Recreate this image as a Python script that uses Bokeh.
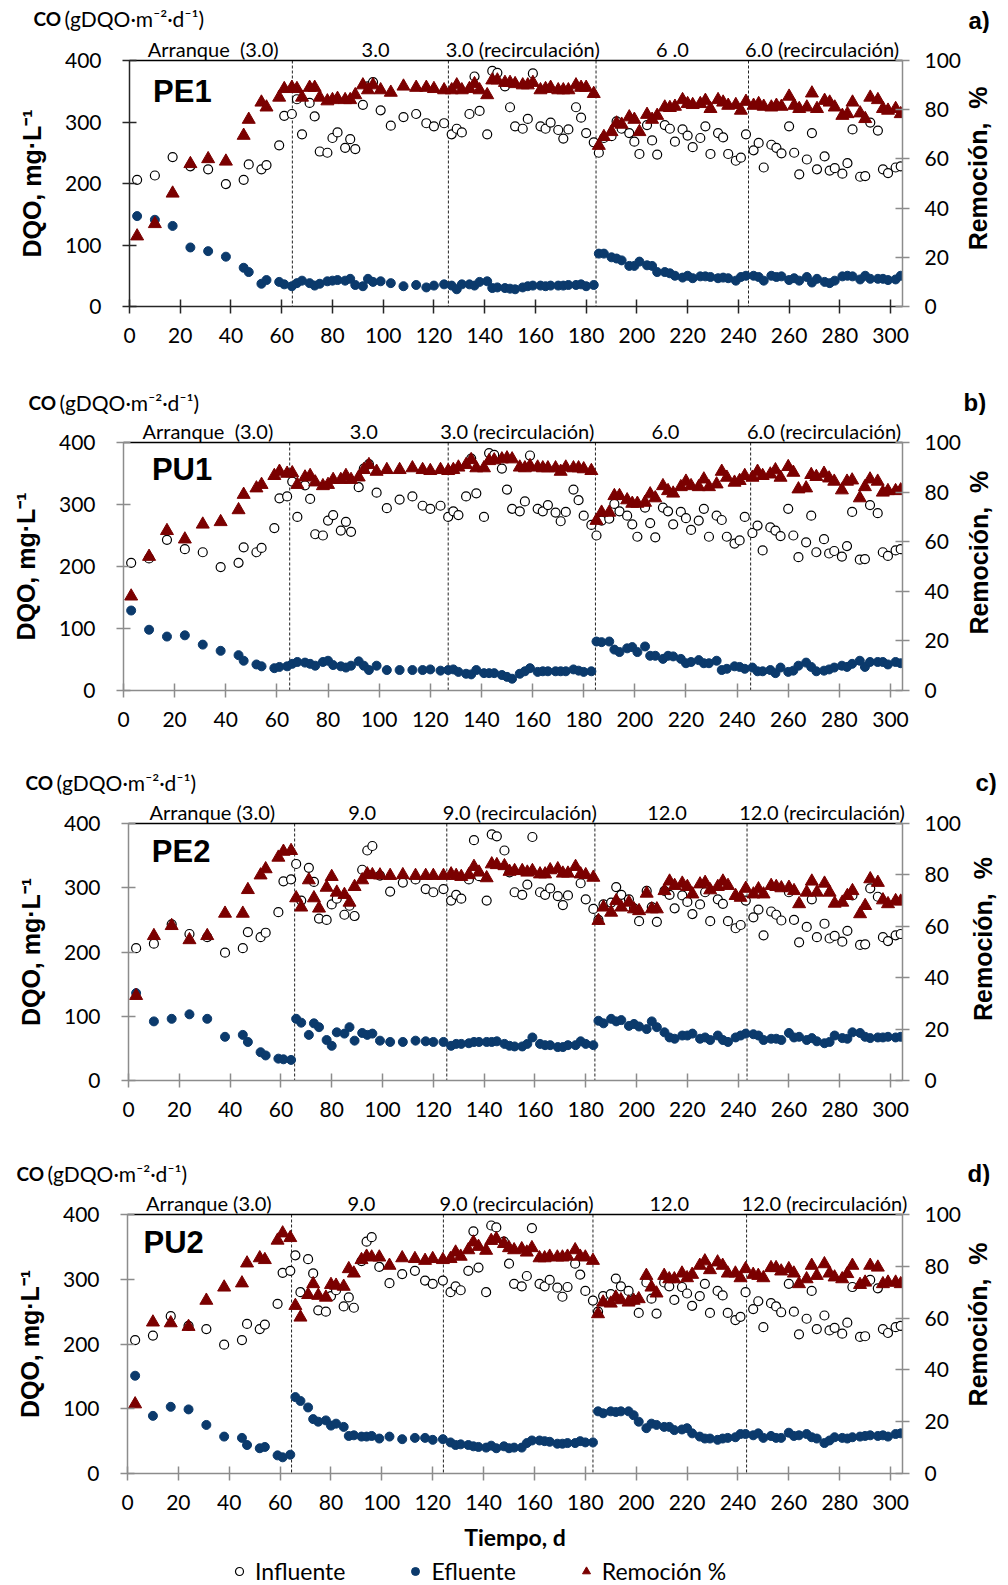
import math
from bokeh.plotting import figure
from bokeh.models import Range1d, LinearAxis, FixedTicker, Span, Label, Legend, LegendItem
from bokeh.layouts import column, row
from bokeh.embed import file_html
from bokeh.resources import INLINE

# ---------------- DATA ----------------
dias = [3, 10, 17, 24, 31, 38, 45, 47, 52, 54,
        59, 61, 64, 66, 68, 71, 73, 75, 78, 80,
        82, 85, 87, 89, 92, 94, 96, 99, 103, 108,
        113, 117, 120, 124, 127, 129, 131, 134, 136, 138,
        141, 143, 145, 148, 150, 152, 155, 157, 159, 162,
        164, 166, 169, 171, 173, 176, 178, 180, 183, 185,
        187, 190, 192, 194, 197, 199, 201, 204, 206, 208,
        211, 213, 215, 218, 220, 222, 225, 227, 229, 232,
        234, 236, 239, 241, 243, 246, 248, 250, 253, 255,
        257, 260, 262, 264, 267, 269, 271, 274, 276, 278,
        281, 283, 285, 288, 290, 292, 295, 297, 299, 302,
        304]

influente = [206, 213, 243, 228, 223, 199, 206, 231, 223, 230,
             262, 310, 313, 337, 280, 331, 309, 252, 250, 274,
             283, 258, 272, 256, 328, 358, 365, 319, 294, 308,
             313, 298, 293, 298, 280, 289, 283, 313, 374, 318,
             280, 383, 380, 358, 324, 293, 289, 305, 379, 293,
             289, 299, 287, 273, 288, 324, 307, 282, 267, 250,
             274, 277, 301, 289, 282, 268, 248, 295, 270, 247,
             295, 289, 268, 288, 278, 259, 274, 293, 248, 282,
             275, 248, 237, 242, 280, 254, 266, 226, 263, 258,
             249, 293, 250, 215, 239, 282, 223, 244, 221, 225,
             216, 233, 288, 211, 212, 299, 286, 223, 217, 226,
             228]

efluente_pe1 = [147, 141, 131, 96, 90, 81, 63, 56, 37, 43,
                40, 36, 33, 38, 42, 38, 34, 37, 41, 42,
                43, 42, 45, 35, 33, 45, 40, 41, 38, 33,
                35, 31, 34, 36, 34, 28, 36, 36, 34, 40,
                41, 30, 31, 30, 29, 28, 31, 33, 34, 34,
                33, 34, 34, 34, 35, 35, 36, 33, 35, 86,
                86, 80, 78, 75, 66, 66, 73, 67, 66, 56,
                56, 54, 50, 47, 50, 46, 49, 49, 48, 46,
                47, 46, 42, 48, 50, 50, 48, 42, 50, 48,
                49, 43, 46, 42, 48, 39, 45, 40, 38, 42,
                49, 50, 49, 44, 50, 45, 45, 45, 43, 44,
                50]
remocion_pe1 = [28.6, 33.6, 46, 58, 60, 59, 69.5, 76, 83, 81,
                85, 88.5, 89, 88.5, 85, 89, 89, 85, 83.5, 84,
                84.5, 84, 84, 86, 90, 88, 90, 88, 87, 89.5,
                89, 89, 88.5, 88, 88, 90, 88, 88.5, 90.5, 88,
                86, 92, 92, 91, 91, 90.5, 90, 90, 91, 88,
                88.5, 89, 88, 88, 88, 90, 89, 89, 86.5, 65.4,
                69, 71, 74.5, 74, 77, 76, 71, 78, 76, 77.6,
                81, 80.8, 81.3, 84, 82.4, 82, 82.4, 83.7, 80.4, 84,
                83, 81.7, 82, 79.7, 83.3, 81.7, 82.4, 81.3, 81, 81.7,
                81.3, 85.4, 81.7, 80.4, 81, 86.7, 80.4, 83.7, 83, 81,
                77.6, 78.3, 83, 78.6, 76.3, 85, 84, 80.4, 79.7, 80.4,
                78.3]

efluente_pu1 = [129, 98, 87, 89, 74, 64, 57, 48, 42, 39,
                36, 38, 39, 43, 46, 45, 43, 40, 46, 48,
                41, 39, 37, 40, 47, 40, 33, 40, 33, 33,
                33, 33, 34, 32, 33, 34, 30, 27, 26, 33,
                28, 28, 28, 25, 22, 19, 27, 31, 36, 30,
                31, 31, 31, 31, 31, 34, 32, 30, 31, 79,
                78, 79, 66, 62, 68, 70, 62, 71, 56, 56,
                51, 56, 55, 51, 44, 46, 49, 44, 44, 48,
                33, 35, 39, 38, 35, 37, 31, 31, 33, 28,
                37, 30, 32, 40, 45, 38, 31, 32, 34, 37,
                40, 38, 43, 48, 38, 46, 46, 46, 42, 46,
                44]
remocion_pu1 = [38, 54, 64.4, 61, 67, 68, 72.8, 79, 81.6, 83,
                86.6, 88.3, 87.5, 87.7, 83, 86, 86.6, 84, 82.5, 83,
                85, 85, 86.6, 85, 86, 89, 91, 88.3, 89, 89,
                89.7, 89, 88.6, 89, 88.6, 89, 90, 91, 93, 89.7,
                89.7, 92.6, 92.9, 93.3, 93.7, 93.3, 90, 89.7, 90.6, 90,
                89.7, 89.7, 89.7, 88.3, 90, 89.7, 89.7, 89.3, 88.6, 68.5,
                71.8, 71.8, 78.5, 78.5, 76.8, 75.4, 75.4, 75.8, 79.2, 77.6,
                82.5, 80.5, 79.5, 82.1, 84.3, 82.5, 82.1, 85.2, 82.1, 83.2,
                88.3, 85.9, 83.9, 84.6, 86.6, 85.9, 88.3, 86.6, 87.2, 88.9,
                85.9, 90.2, 87.9, 81.2, 81.6, 87, 86.2, 87.5, 85.6, 84.3,
                80.8, 84.3, 84.8, 77.6, 82.1, 85.2, 84.3, 79.9, 80.5, 80.5,
                80.8]

efluente_pe2 = [136, 92, 96, 103, 96, 68, 71, 60, 44, 39,
                34, 33, 32, 96, 90, 71, 89, 83, 63, 54,
                75, 73, 83, 62, 74, 71, 73, 62, 60, 60,
                62, 61, 60, 60, 54, 57, 57, 58, 60, 60,
                60, 60, 61, 57, 54, 53, 53, 57, 67, 57,
                55, 55, 52, 52, 55, 55, 61, 57, 55, 93,
                89, 96, 92, 94, 85, 88, 84, 80, 92, 83,
                75, 67, 65, 70, 70, 73, 65, 67, 63, 70,
                63, 60, 67, 70, 73, 72, 70, 63, 65, 65,
                63, 74, 67, 68, 63, 66, 61, 58, 60, 70,
                66, 65, 75, 74, 68, 66, 67, 67, 68, 67,
                68]
remocion_pe2 = [33, 56.3, 60.2, 54.7, 56.3, 65, 65, 74.2, 79.9, 82.3,
                86.8, 89.1, 89.4, 71, 67.4, 78, 71, 67, 75.1, 79.3,
                73.2, 72.3, 69.3, 75.4, 78, 80.3, 80, 79.9, 79.7, 80,
                79.7, 79.7, 79.7, 79.7, 80.3, 79.7, 79.3, 80, 83.2, 81,
                78.8, 84.2, 83.9, 83.5, 81.3, 81.6, 81.6, 81, 81.6, 80.3,
                80.3, 81.9, 82.3, 80.6, 80.6, 83.2, 80.3, 80, 79, 62.2,
                67.4, 65.4, 69.9, 67.4, 69.3, 66.7, 66, 72.8, 66.7, 66.7,
                73.8, 77.5, 75.8, 76.7, 75.4, 72.5, 76.4, 77, 74.1, 75.4,
                77.5, 75.8, 71.9, 71.2, 74.7, 72.5, 74.5, 72.5, 75.8, 75.4,
                74.9, 75.1, 73.8, 68.7, 73.2, 77.5, 73.2, 76.7, 73.2, 68.9,
                69.3, 71.9, 73.8, 64.8, 68, 78.4, 77, 70.2, 68.7, 69.9,
                69.7]

efluente_pu2 = [151, 89, 103, 99, 75, 57, 55, 44, 39, 41,
                28, 25, 29, 118, 112, 102, 84, 80, 82, 74,
                77, 72, 58, 59, 57, 57, 58, 54, 57, 53,
                55, 55, 52, 53, 48, 44, 45, 44, 42, 41,
                40, 43, 39, 42, 39, 40, 40, 47, 51, 51,
                50, 49, 46, 46, 47, 47, 50, 48, 48, 96,
                93, 96, 95, 96, 96, 90, 80, 70, 77, 75,
                72, 72, 67, 68, 70, 62, 57, 54, 54, 52,
                54, 55, 56, 61, 61, 59, 62, 55, 58, 55,
                55, 63, 58, 59, 61, 56, 54, 47, 51, 56,
                55, 54, 56, 57, 58, 59, 58, 59, 57, 61,
                62]
remocion_pu2 = [26.8, 58.4, 58.1, 56.7, 66.8, 71.9, 73.5, 81.2, 83.2, 82.5,
                90, 92.8, 91, 64.8, 60.3, 69, 73.2, 68.7, 68, 72.9,
                72.6, 72.2, 79, 77.3, 82.5, 83.8, 83.5, 83.5, 80.3, 83.2,
                82.9, 82.2, 82.9, 82.5, 82.9, 85.4, 83.8, 86.3, 89.3, 87.6,
                86.1, 89.9, 90.6, 88.7, 87.1, 86.3, 86.7, 85.4, 87.1, 83.2,
                83.2, 83.8, 83.5, 83.5, 83.8, 86.3, 83.8, 83.5, 82.2, 61.6,
                66.1, 65.7, 68, 67, 66.1, 66.8, 67.4, 76.4, 71.9, 69.6,
                76.4, 75.1, 75.1, 77.3, 75.5, 76.8, 80.3, 82, 78.6, 81.6,
                80.3, 77.3, 77.3, 75.5, 79, 76.8, 76.4, 75.5, 79.4, 79.4,
                78.1, 79, 77.3, 73.2, 75.1, 80.3, 76.4, 80.9, 77.3, 75.8,
                75.1, 77.1, 80.3, 72.9, 73.8, 80.3, 79.6, 73.2, 73.8, 73.8,
                73.2]

reactores = ["PE1", "PU1", "PE2", "PU2"]
letras = ["a)", "b)", "c)", "d)"]
etapas_pe1 = ["Arranque\u00a0 (3.0)", "3.0", "3.0 (recirculación)", "6 .0", "6.0 (recirculación)"]
etapas_pu1 = ["Arranque\u00a0 (3.0)", "3.0", "3.0 (recirculación)", "6.0", "6.0 (recirculación)"]
etapas_pe2 = ["Arranque (3.0)", "9.0", "9.0 (recirculación)", "12.0", "12.0 (recirculación)"]
etapas_pu2 = ["Arranque (3.0)", "9.0", "9.0 (recirculación)", "12.0", "12.0 (recirculación)"]
cambios_etapa = [[64.2, 125.7, 183.9, 244], [65, 127, 184.6, 245.3],
                 [65.4, 125.3, 183.6, 243.5], [64.5, 124.2, 183, 243.4]]

ticks_x = list(range(0, 301, 20))
ticks_dqo = [0, 100, 200, 300, 400]
ticks_rem = [0, 20, 40, 60, 80, 100]

titulo_co = "CO"
titulo_unidad = "(gDQO·m⁻²·d⁻¹)"
eje_izq = "DQO, mg·L⁻¹"
eje_der = "Remoción,\u00a0\u00a0%"
eje_x = "Tiempo, d"
leyenda = ["Influente", "Efluente", "Remoción %"]

series = [
    (efluente_pe1, remocion_pe1, etapas_pe1),
    (efluente_pu1, remocion_pu1, etapas_pu1),
    (efluente_pe2, remocion_pe2, etapas_pe2),
    (efluente_pu2, remocion_pu2, etapas_pu2),
]

# ---------------- LAYOUT (positions / sizes, in px) ----------------
W_PLOT, W_SIDE, W_ALL = 964, 36, 1000
geom = [
    dict(hh=33, hp=342, bl=129, br=62, bt=27, bb=69, axcol="#262626",
         pos=[33, 97, 155, 214, 273], co=(33, 15), let=(968, 13.5), nom=(9.3, 350), rlab=(13, 192)),
    dict(hh=40, hp=340, bl=123, br=61, bt=27, bb=65, axcol="#8c8c8c",
         pos=[33, 94, 154, 212, 274], co=(28, 13), let=(963, 13.5), nom=(11.1, 356), rlab=(14, 189)),
    dict(hh=40, hp=348, bl=128, br=59, bt=28, bb=63, axcol="#8c8c8c",
         pos=[33, 92, 154, 212, 273], co=(25, 13), let=(975, 13.5), nom=(9.2, 356.7), rlab=(18, 191.5)),
    dict(hh=43, hp=371, bl=127, br=60, bt=28, bb=84, axcol="#8c8c8c",
         pos=[32, 92, 153, 213, 274], co=(16, 13), let=(967, 13.5), nom=(6.3, 357), rlab=(13, 213.5)),
]
H_LEG = 28

COL_EFL = "#0b3a6c"
COL_REM = "#7b0000"


def blank_fig(w, h, x0=0):
    f = figure(width=w, height=h, x_range=Range1d(x0, x0 + w), y_range=Range1d(0, h),
               output_backend="svg", toolbar_location=None,
               x_axis_location=None, y_axis_location=None, min_border=0,
               outline_line_color=None)
    f.xgrid.visible = False
    f.ygrid.visible = False
    return f


def style_axis(ax, color):
    ax.major_tick_in = 7
    ax.major_tick_out = 7
    ax.minor_tick_in = 0
    ax.minor_tick_out = 0
    ax.axis_line_color = color
    ax.major_tick_line_color = color
    ax.axis_line_width = 1.5
    ax.major_tick_line_width = 1.5
    ax.major_label_text_font = "Lato"
    ax.major_label_text_font_size = "21px"
    ax.major_label_text_color = "black"


def make_header(i):
    g = geom[i]
    h = blank_fig(W_ALL, g["hh"])
    h.add_layout(Label(x=g["co"][0], y=g["co"][1], text=titulo_co, text_font="Lato",
                       text_font_style="bold", text_font_size="19px", text_baseline="middle",
                       text_color="black"))
    h.add_layout(Label(x=g["co"][0] + 31, y=g["co"][1], text=titulo_unidad, text_font="Lato",
                       text_font_size="21px", text_baseline="middle", text_color="black"))
    h.add_layout(Label(x=g["let"][0], y=g["let"][1], text=letras[i], text_font="Liberation Sans",
                       text_font_style="bold", text_font_size="24px", text_baseline="middle",
                       text_color="black"))
    return h


def make_side(i):
    g = geom[i]
    s = blank_fig(W_SIDE, g["hp"])
    s.add_layout(Label(x=g["rlab"][0], y=g["rlab"][1], text=eje_der, angle=math.pi / 2,
                       text_align="center", text_baseline="middle", text_font="Liberation Sans",
                       text_font_style="bold", text_font_size="25px", text_color="black"))
    return s


def make_panel(i):
    g = geom[i]
    efl, rem, etapas = series[i]
    p = figure(width=W_PLOT, height=g["hp"], x_range=Range1d(0, 304.7), y_range=Range1d(0, 400),
               output_backend="svg", toolbar_location=None,
               min_border_left=g["bl"], min_border_right=g["br"],
               min_border_top=g["bt"], min_border_bottom=g["bb"],
               outline_line_color=None)
    p.xgrid.visible = False
    p.ygrid.visible = False
    p.extra_y_ranges = {"rem": Range1d(0, 100)}

    xa = p.xaxis[0]
    style_axis(xa, g["axcol"])
    xa.ticker = FixedTicker(ticks=ticks_x)
    xa.major_label_standoff = 14

    ya = p.yaxis[0]
    style_axis(ya, g["axcol"])
    ya.ticker = FixedTicker(ticks=ticks_dqo)
    ya.major_label_standoff = 21
    ya.axis_label = eje_izq
    ya.axis_label_text_font = "Liberation Sans"
    ya.axis_label_text_font_style = "bold"
    ya.axis_label_text_font_size = "25px"
    ya.axis_label_text_color = "black"
    ya.axis_label_standoff = 16

    ra = LinearAxis(y_range_name="rem", ticker=FixedTicker(ticks=ticks_rem))
    style_axis(ra, "#8c8c8c")
    ra.major_label_standoff = 15
    p.add_layout(ra, "right")

    ta = LinearAxis(ticker=FixedTicker(ticks=g["pos"]),
                    major_label_overrides={k: t for k, t in zip(g["pos"], etapas)})
    ta.major_tick_in = 0
    ta.major_tick_out = 0
    ta.minor_tick_in = 0
    ta.minor_tick_out = 0
    ta.axis_line_color = "black"
    ta.axis_line_width = 1.5
    ta.major_label_standoff = 0
    ta.major_label_text_font = "Lato"
    ta.major_label_text_font_size = "20px"
    ta.major_label_text_color = "black"
    p.add_layout(ta, "above")

    for xc in cambios_etapa[i]:
        p.add_layout(Span(location=xc, dimension="height", line_color="#222222",
                          line_width=1, line_dash="3 2", level="underlay"))

    p.scatter(dias, influente, marker="circle", size=9, fill_color="white",
              line_color="black", line_width=1.2)
    p.scatter(dias, efl, marker="circle", size=9, fill_color=COL_EFL, line_color=COL_EFL)
    p.scatter(dias, rem, marker="triangle", size=13, fill_color=COL_REM,
              line_color=COL_REM, y_range_name="rem")

    p.add_layout(Label(x=g["nom"][0], y=g["nom"][1], text=reactores[i], text_font="Liberation Sans",
                       text_font_style="bold", text_font_size="31px", text_baseline="middle",
                       text_color="black"))

    if i == 3:
        xa.axis_label = eje_x
        xa.axis_label_text_font = "Lato"
        xa.axis_label_text_font_style = "bold"
        xa.axis_label_text_font_size = "23px"
        xa.axis_label_text_color = "black"
        xa.axis_label_standoff = 10
    return p


def make_legend():
    # legend strip: its x range lies far from the data, so its renderers show only in the legend
    f = blank_fig(W_ALL, H_LEG, x0=-5000)
    r1 = f.scatter(dias[:1], influente[:1], marker="circle", size=9, fill_color="white",
                   line_color="black", line_width=1.2)
    r2 = f.scatter(dias[:1], efluente_pe1[:1], marker="circle", size=9, fill_color=COL_EFL,
                   line_color=COL_EFL)
    r3 = f.scatter(dias[:1], remocion_pe1[:1], marker="triangle", size=13, fill_color=COL_REM,
                   line_color=COL_REM)
    leg = Legend(items=[LegendItem(label=leyenda[0], renderers=[r1]),
                        LegendItem(label=leyenda[1], renderers=[r2]),
                        LegendItem(label=leyenda[2], renderers=[r3])],
                 orientation="horizontal", location=(229, 0),
                 glyph_width=20, glyph_height=20, label_standoff=6, spacing=60,
                 padding=0, margin=0, border_line_color=None, background_fill_alpha=0,
                 label_text_font="Lato", label_text_font_size="23px",
                 label_text_color="black")
    f.add_layout(leg)
    return f


children = []
for i in range(4):
    children.append(make_header(i))
    children.append(row(make_panel(i), make_side(i), spacing=0))
children.append(make_legend())
layout = column(*children, spacing=0)
open("out.html", "w").write(file_html(layout, INLINE))
